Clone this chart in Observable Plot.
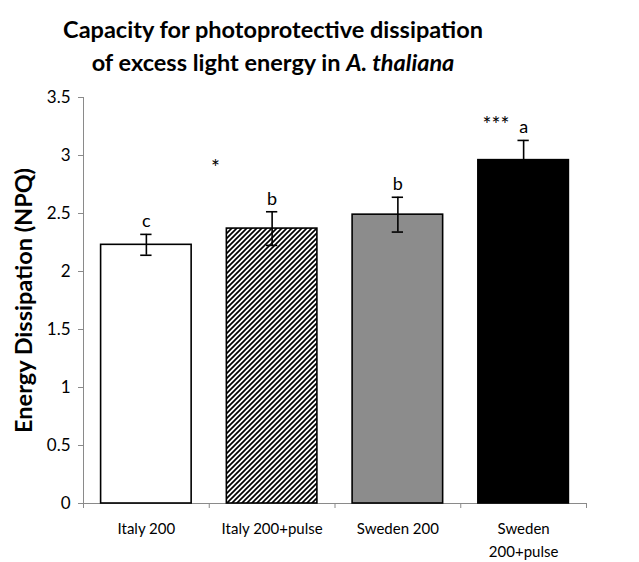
<!DOCTYPE html>
<html><head><meta charset="utf-8">
<script src="https://cdn.jsdelivr.net/npm/d3@7"></script>
<script src="https://cdn.jsdelivr.net/npm/@observablehq/plot@0.6"></script>
<style>
body{margin:0;background:#fff;font-family:Lato,"Open Sans",sans-serif;}
#title{height:85px;box-sizing:border-box;padding-top:13px;text-align:center;font-weight:bold;font-size:23.5px;line-height:33px;color:#000;width:546px;}
#chart g[aria-label="y-axis tick label"], #chart g[aria-label="y-axis tick label"] text{font-size:17px !important;}
#chart g[aria-label="x-axis tick label"], #chart g[aria-label="x-axis tick label"] text{font-size:15px !important;}
</style></head>
<body>
<svg width="0" height="0" style="position:absolute">
 <defs>
  <pattern id="hatch" patternUnits="userSpaceOnUse" width="5" height="5">
   <rect width="5" height="5" fill="#fff"/>
   <path d="M-1,1 l2,-2 M0,5 l5,-5 M4,6 l2,-2" stroke="#000" stroke-width="1.7"/>
  </pattern>
 </defs>
</svg>
<div id="title">Capacity for photoprotective dissipation<br>of excess light energy in <i>A. thaliana</i></div>
<div id="chart"></div>
<script>
const categories = ["Italy 200", "Italy 200+pulse", "Sweden 200", "Sweden\n200+pulse"];
const values = [2.23, 2.37, 2.49, 2.96];
const errors = [0.09, 0.145, 0.15, 0.17];
const letters = ["c", "b", "b", "a"];
const fills = ["#ffffff", "url(#hatch)", "#8c8c8c", "#000000"];
const yTicks = [0, 0.5, 1, 1.5, 2, 2.5, 3, 3.5];
const sigLabels = ["*", "***"];
const sigX = [0.55, 2.78];
const sigY = [2.93, 3.30];

const data = categories.map((c, i) => ({i, c, v: values[i], e: errors[i], l: letters[i], f: fills[i]}));
const sig = sigLabels.map((s, k) => ({s, x: sigX[k], y: sigY[k]}));
const half = 0.36, cap = 0.045;
const bounds = d3.range(categories.length + 1).map(k => k - 0.5);

const chart = Plot.plot({
  width: 639, height: 477,
  marginTop: 12, marginBottom: 59, marginLeft: 83, marginRight: 53,
  style: {fontFamily: "Lato, 'Open Sans', sans-serif", fontSize: "15px", color: "#000", background: "#fff"},
  x: {domain: [-0.5, categories.length - 0.5]},
  y: {domain: [0, 3.5]},
  color: {type: "identity"},
  marks: [
    Plot.frame({anchor: "left", stroke: "#8a8a8a"}),
    Plot.ruleY([0], {stroke: "#8a8a8a"}),
    Plot.axisY({ticks: yTicks, tickSize: 5, tickPadding: 8, tickFormat: d => String(d), stroke: "#8a8a8a", label: null}),
    Plot.axisX({ticks: bounds, tickSize: 5, tickFormat: () => "", stroke: "#8a8a8a", label: null}),
    Plot.axisX({ticks: d3.range(categories.length), tickSize: 0, tickPadding: 15, tickFormat: k => categories[k], label: null, lineHeight: 1.5}),
    Plot.rectY(data, {x1: d => d.i - half, x2: d => d.i + half, y1: 0, y2: "v", fill: "f", stroke: "#000", strokeWidth: 1.6}),
    Plot.ruleX(data, {x: "i", y1: d => d.v - d.e, y2: d => d.v + d.e, stroke: "#000", strokeWidth: 1.6}),
    Plot.ruleY(data, {y: d => d.v + d.e, x1: d => d.i - cap, x2: d => d.i + cap, stroke: "#000", strokeWidth: 1.6}),
    Plot.ruleY(data, {y: d => d.v - d.e, x1: d => d.i - cap, x2: d => d.i + cap, stroke: "#000", strokeWidth: 1.6}),
    Plot.text(data, {x: "i", y: d => d.v + d.e, text: "l", dy: -13, fontSize: 18, fill: "#000"}),
    Plot.text(sig, {x: "x", y: "y", text: "s", dy: 5, fontSize: 21, fill: "#000"}),
    Plot.text(["Energy Dissipation (NPQ)"], {frameAnchor: "left", textAnchor: "middle", rotate: -90, dx: -59, fontSize: 23.5, fontWeight: "bold", fill: "#000"})
  ]
});
document.getElementById("chart").appendChild(chart);
</script>
</body></html>
